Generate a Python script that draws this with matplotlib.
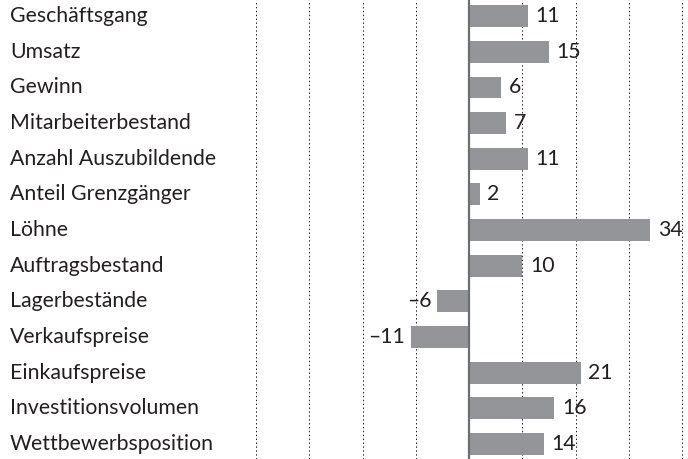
import numpy as np
import matplotlib
matplotlib.use("Agg")
import matplotlib.pyplot as plt
import matplotlib.transforms as mtransforms

categories = [
    "Geschäftsgang", "Umsatz", "Gewinn", "Mitarbeiterbestand",
    "Anzahl Auszubildende", "Anteil Grenzgänger", "Löhne",
    "Auftragsbestand", "Lagerbestände", "Verkaufspreise",
    "Einkaufspreise", "Investitionsvolumen", "Wettbewerbsposition",
]
values = [11, 15, 6, 7, 11, 2, 34, 10, -6, -11, 21, 16, 14]
grid_ticks = [-40, -30, -20, -10, 0, 10, 20, 30, 40]

TEXT = "#231f20"
BAR = "#939598"

plt.rcParams["font.family"] = ["Lato", "DejaVu Sans"]

fig = plt.figure(figsize=(6.88, 4.59), dpi=100)
ax = fig.add_axes([0, 0, 1, 1])

y = np.arange(len(categories))
ax.barh(y, values, height=0.61, color=BAR, zorder=2)

ax.set_xlim(-88.1, 41.1)
ax.set_ylim(12.42, -0.45)
for t in grid_ticks:
    if t == 0:
        ax.axvline(t, color="#6d6e71", lw=1.6, zorder=3)
    else:
        ax.axvline(t, color="#231f20", lw=0.7, ls=(0, (1.5, 2.5)), zorder=1)

for s in ax.spines.values():
    s.set_visible(False)
ax.set_xticks([])
ax.set_yticks([])

fs = 15.3
trans = mtransforms.blended_transform_factory(ax.transAxes, ax.transData)
for i, c in enumerate(categories):
    ax.text(0.0145, i, c, transform=trans, ha="left", va="center",
            fontsize=fs, color=TEXT)

for i, v in enumerate(values):
    if v >= 0:
        ax.text(v + 1.4, i, str(v), ha="left", va="center",
                fontsize=fs, color=TEXT, zorder=4)
    else:
        ax.text(v - 1.0, i, "\u2013" + str(abs(v)), ha="right", va="center",
                fontsize=fs, color=TEXT, zorder=4)

fig.savefig("out.png", dpi=100)
